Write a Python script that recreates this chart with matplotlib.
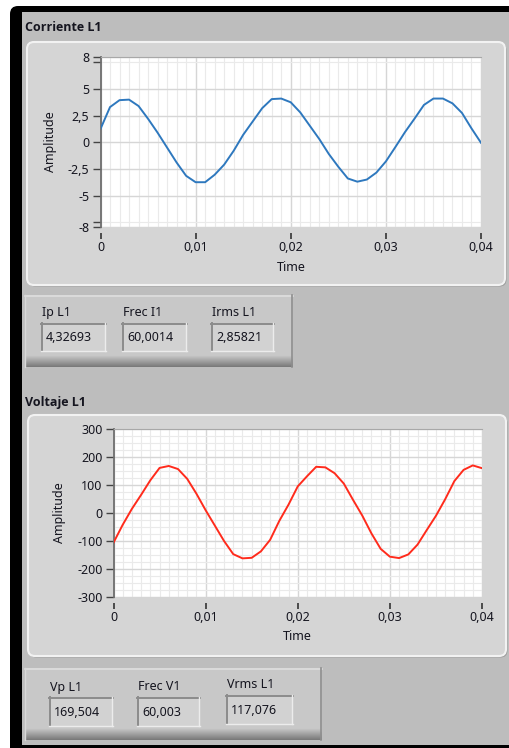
import matplotlib.pyplot as plt
from matplotlib.patches import FancyBboxPatch, Rectangle
from matplotlib.ticker import FixedLocator, MultipleLocator

plt.rcParams['font.family'] = ['Noto Sans', 'DejaVu Sans']

W, H = 509, 748

tiempo = [0.000, 0.001, 0.002, 0.003, 0.004, 0.005, 0.006, 0.007, 0.008, 0.009,
          0.010, 0.011, 0.012, 0.013, 0.014, 0.015, 0.016, 0.017, 0.018, 0.019,
          0.020, 0.021, 0.022, 0.023, 0.024, 0.025, 0.026, 0.027, 0.028, 0.029,
          0.030, 0.031, 0.032, 0.033, 0.034, 0.035, 0.036, 0.037, 0.038, 0.039,
          0.040]
corriente = [1.25, 3.3, 3.95, 4.0, 3.4, 2.2, 0.9, -0.5, -1.9, -3.15,
             -3.75, -3.75, -3.05, -2.1, -0.8, 0.7, 1.95, 3.2, 4.05, 4.1,
             3.75, 2.8, 1.55, 0.3, -1.1, -2.3, -3.4, -3.7, -3.5, -2.85,
             -1.8, -0.45, 0.94, 2.2, 3.5, 4.1, 4.1, 3.65, 2.75, 1.3,
             -0.05]
voltaje = [-106, -42, 15, 65, 117, 161, 168, 157, 122, 69,
           10, -45, -100, -147, -162, -160, -137, -96, -28, 30,
           95, 131, 165, 163, 142, 105, 47, -9, -73, -128,
           -156, -161, -148, -113, -61, -10, 49, 114, 154, 170,
           160]

x_ticks = [0, 0.01, 0.02, 0.03, 0.04]
x_labels = ["0", "0,01", "0,02", "0,03", "0,04"]
i_ticks = [-8, -5, -2.5, 0, 2.5, 5, 8]
i_labels = ["-8", "-5", "-2,5", "0", "2,5", "5", "8"]
v_ticks = [-300, -200, -100, 0, 100, 200, 300]
v_labels = ["-300", "-200", "-100", "0", "100", "200", "300"]

ind_corriente = [("Ip L1", "4,32693"), ("Frec I1", "60,0014"), ("Irms L1", "2,85821")]
ind_voltaje = [("Vp L1", "169,504"), ("Frec V1", "60,003"), ("Vrms L1", "117,076")]

TXT = '#15151f'
BOLD = ['Open Sans', 'Lato', 'DejaVu Sans']

fig = plt.figure(figsize=(W / 100, H / 100), dpi=100)
fig.patch.set_facecolor('white')

bg = fig.add_axes([0, 0, 1, 1])
bg.set_xlim(0, W)
bg.set_ylim(H, 0)
bg.axis('off')


def px_axes(x0, y0, x1, y1):
    return fig.add_axes([x0 / W, 1 - y1 / H, (x1 - x0) / W, (y1 - y0) / H])


# marco del panel
bg.add_patch(FancyBboxPatch((10, 6), 520, 760, boxstyle="round,pad=0,rounding_size=8",
                            fc='black', ec='none'))
bg.add_patch(Rectangle((22, 12), 500, 733, fc='#bdbdbd', ec='none'))


def graph_frame(x0, y0, x1, y1):
    bg.add_patch(FancyBboxPatch((x0 + 1.5, y0 + 1.5), x1 - x0, y1 - y0,
                                boxstyle="round,pad=0,rounding_size=7", fc='#9c9c9c', ec='none'))
    bg.add_patch(FancyBboxPatch((x0, y0), x1 - x0, y1 - y0,
                                boxstyle="round,pad=0,rounding_size=7", fc='#d5d5d5',
                                ec='#f2f2f2', lw=1.5))


def cluster(x0, y0, x1, y1, items, label_y, box_y, boxes):
    bg.add_patch(Rectangle((x0, y0), x1 - x0, y1 - y0, fc='#c8c8c8', ec='none'))
    # sombra inferior (degradado)
    n = 12
    for k in range(n):
        g = 0.78 - 0.3 * k / (n - 1)
        bg.add_patch(Rectangle((x0, y1 - n + k), x1 - x0, 1, fc=(g, g, g), ec='none'))
    bg.plot([x0, x1], [y0 + 0.5, y0 + 0.5], color='#dedede', lw=1.2)
    bg.plot([x1 - 0.5, x1 - 0.5], [y0, y1], color='#8e8e8e', lw=1.2)
    bg.plot([x0 + 0.5, x0 + 0.5], [y0, y1], color='#d8d8d8', lw=1.0)
    for (lab, val), (bx0, bx1), ly, by in zip(items, boxes, label_y, box_y):
        bg.text(bx0 + 1, ly, lab, fontsize=9, color=TXT, ha='left', va='center')
        by0, by1 = by
        bg.add_patch(Rectangle((bx0, by0), bx1 - bx0, by1 - by0, fc='#d2d2d2', ec='none'))
        bg.plot([bx0, bx1], [by0 + 0.7, by0 + 0.7], color='#8c8c8c', lw=1.4)
        bg.plot([bx0 + 0.7, bx0 + 0.7], [by0, by1], color='#8c8c8c', lw=1.4)
        bg.plot([bx0, bx1], [by1 - 0.5, by1 - 0.5], color='#ececec', lw=1.0)
        bg.plot([bx1 - 0.5, bx1 - 0.5], [by0, by1], color='#ececec', lw=1.0)
        bg.text(bx0 + 5, (by0 + by1) / 2 + 0.5, val, fontsize=9, color=TXT,
                ha='left', va='center')


def graph(box, y, color, yticks, ylabels, ylim, ygrid_minor, ytick_minor):
    ax = px_axes(*box)
    ax.set_facecolor('white')
    ax.plot(tiempo, y, color=color, lw=1.4, zorder=3)
    ax.set_xlim(0, 0.04)
    ax.set_ylim(*ylim)
    ax.set_xticks(x_ticks)
    ax.set_xticklabels(x_labels)
    ax.set_yticks(yticks)
    ax.set_yticklabels(ylabels)
    ax.xaxis.set_minor_locator(MultipleLocator(0.001))
    ax.yaxis.set_minor_locator(FixedLocator(ygrid_minor))
    ax.grid(which='minor', color='#eaeaea', lw=0.8)
    ax.grid(which='major', color='#d6d6d6', lw=1.0)
    ax.set_axisbelow(True)
    ax.tick_params(axis='x', which='major', direction='out', length=4, width=1.2,
                   color='#333333', labelsize=9, labelcolor=TXT, pad=2)
    ax.tick_params(axis='x', which='minor', length=0)
    ax.tick_params(axis='y', which='major', direction='out', length=6, width=1.0,
                   color='#444444', labelsize=9, labelcolor=TXT, pad=2)
    ax.tick_params(axis='y', which='minor', length=6 if ytick_minor else 0,
                   width=1.0, color='#444444')
    ax.spines['bottom'].set_position(('outward', 4))
    ax.spines['bottom'].set_visible(False)
    ax.spines['right'].set_visible(False)
    ax.spines['top'].set_color('#a8a8a8')
    ax.spines['left'].set_color('#6f6f6f')
    ax.spines['left'].set_linewidth(1.3)
    return ax


# Corriente L1
bg.text(25, 27, "Corriente L1", fontsize=9, fontweight='bold', family=BOLD,
        color=TXT, ha='left', va='center')
graph_frame(27, 42, 505, 285)
graph((100.5, 57, 481, 227.5), corriente, '#2e78be', i_ticks, i_labels, (-8, 8),
      [-7.5, 7.5], True)
bg.text(51, 142, "Amplitude", fontsize=9, color=TXT, rotation=90, ha='center', va='center')
bg.text(291, 267, "Time", fontsize=9, color=TXT, ha='center', va='center')

cluster(25, 295, 293, 367, ind_corriente,
        [312, 312, 312], [(323, 351), (323, 351), (323, 351)],
        [(41, 106), (122, 187), (211, 274)])

# Voltaje L1
bg.text(25, 402, "Voltaje L1", fontsize=9, fontweight='bold', family=BOLD,
        color=TXT, ha='left', va='center')
graph_frame(28, 415, 506, 656)
graph((113.5, 429, 482, 597), voltaje, '#ff2b1c', v_ticks, v_labels, (-300, 300),
      [v + d for v in v_ticks[:-1] for d in (25, 50, 75)], False)
bg.text(59, 513, "Amplitude", fontsize=9, color=TXT, rotation=90, ha='center', va='center')
bg.text(297, 636, "Time", fontsize=9, color=TXT, ha='center', va='center')

cluster(25, 668, 322, 740, ind_voltaje,
        [687, 687, 684], [(697, 726), (697, 726), (695, 724)],
        [(49, 113), (137, 200), (226, 293)])

fig.savefig('out.png', dpi=100)
